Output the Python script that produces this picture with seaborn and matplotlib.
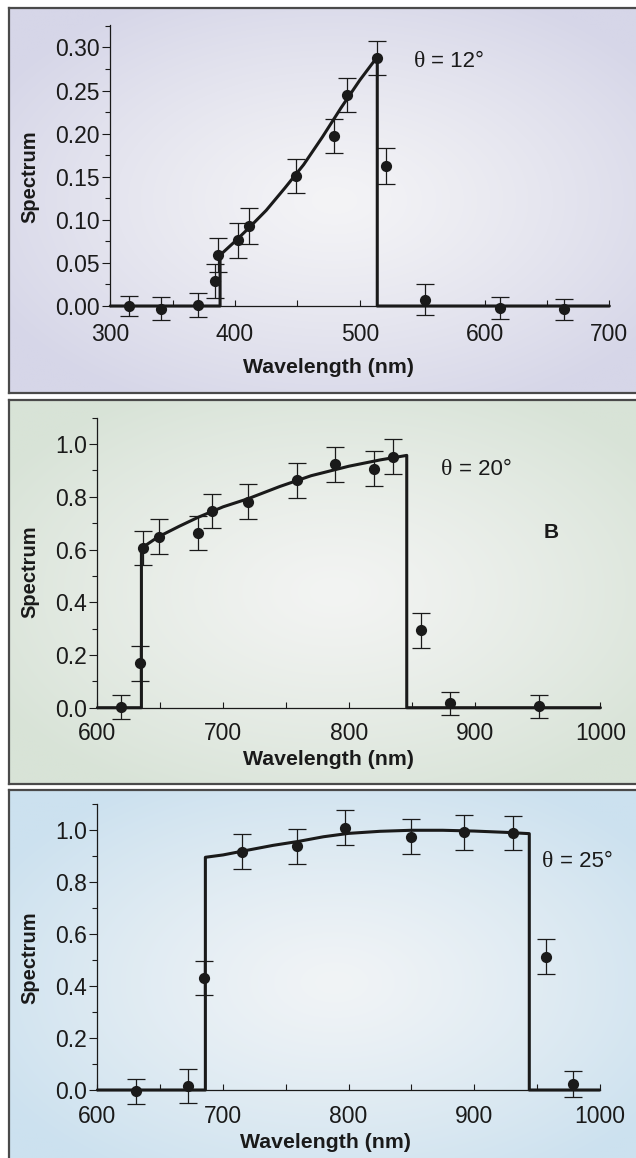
import numpy as np
import matplotlib
matplotlib.use("Agg")
import matplotlib.pyplot as plt
import seaborn as sns
from matplotlib.ticker import MultipleLocator, FormatStrFormatter

# ---------------------------------------------------------------
# data
# theta = 12 deg
wl_12 = [315, 341, 370, 384, 386, 402, 411, 449, 479, 490, 514, 521, 552, 612, 664]
sp_12 = [0.000, -0.003, 0.001, 0.029, 0.059, 0.076, 0.093, 0.151, 0.197, 0.245,
         0.288, 0.162, 0.007, -0.002, -0.004]
err_12 = [0.012, 0.013, 0.014, 0.020, 0.020, 0.020, 0.021, 0.020, 0.020, 0.020,
          0.020, 0.021, 0.018, 0.013, 0.012]
fit_wl_12 = [388, 400, 410, 425, 440, 455, 470, 485, 500, 514]
fit_sp_12 = [0.059, 0.075, 0.089, 0.111, 0.137, 0.164, 0.196, 0.230, 0.262, 0.289]

# theta = 20 deg
wl_20 = [619, 634, 636, 649, 680, 691, 720, 759, 789, 820, 835, 857, 880, 951]
sp_20 = [0.003, 0.168, 0.606, 0.648, 0.663, 0.746, 0.782, 0.863, 0.924, 0.906,
         0.952, 0.293, 0.016, 0.005]
err_20 = [0.045, 0.066, 0.066, 0.066, 0.066, 0.066, 0.066, 0.066, 0.066, 0.066,
          0.066, 0.066, 0.045, 0.045]
fit_wl_20 = [635, 648, 665, 680, 700, 720, 745, 770, 800, 825, 846]
fit_sp_20 = [0.605, 0.647, 0.688, 0.722, 0.762, 0.793, 0.839, 0.880, 0.916, 0.940, 0.957]

# theta = 25 deg
wl_25 = [631, 672, 685, 715, 759, 797, 850, 892, 931, 957, 979]
sp_25 = [-0.004, 0.015, 0.432, 0.918, 0.938, 1.010, 0.976, 0.992, 0.990, 0.514, 0.023]
err_25 = [0.048, 0.066, 0.066, 0.066, 0.066, 0.067, 0.067, 0.067, 0.066, 0.067, 0.050]
fit_wl_25 = [686, 700, 716, 740, 760, 780, 800, 825, 850, 875, 900, 925, 944]
fit_sp_25 = [0.896, 0.905, 0.920, 0.942, 0.957, 0.975, 0.988, 0.996, 1.000, 1.000,
             0.997, 0.992, 0.987]

# ---------------------------------------------------------------
sns.set_theme(style="ticks")
plt.rcParams["font.family"] = ["Liberation Sans", "DejaVu Sans"]

W, H = 636, 1158
fig = plt.figure(figsize=(W / 100, H / 100), dpi=100)


def rect(x0, x1, ytop, ybot):
    return [x0 / W, 1 - ybot / H, (x1 - x0) / W, (ybot - ytop) / H]


def backdrop(box, edge, centre):
    bg = fig.add_axes(rect(*box), zorder=0)
    gx, gy = np.meshgrid(np.linspace(-1, 1, 300), np.linspace(-1, 1, 300))
    r = np.clip(np.sqrt(gx ** 2 + gy ** 2) / 1.2, 0, 1) ** 1.2
    edge = np.array(matplotlib.colors.to_rgb(edge))
    centre = np.array(matplotlib.colors.to_rgb(centre))
    img = centre + (edge - centre) * r[..., None]
    bg.imshow(img, aspect="auto", extent=(0, 1, 0, 1), interpolation="bilinear")
    bg.set_xticks([])
    bg.set_yticks([])
    for s in bg.spines.values():
        s.set_color("#4a4a4a")
        s.set_linewidth(1.6)


panels = [
    dict(wl=wl_12, sp=sp_12, err=err_12, fwl=fit_wl_12, fsp=fit_sp_12,
         xlim=(300, 700), ylim=(0, 0.326), ymaj=0.05, ymin=0.025, yfmt="%.2f",
         box=(9, 660, 8, 393), edge="#d6d6e8", centre="#f4f4f6",
         axes=(110.3, 609.3, 25, 306), theta="θ = 12°", tpos=(543, 0.284),
         xpad=12.5, xlab=(0.4375, -0.186), ylab=(-0.143, 0.46)),
    dict(wl=wl_20, sp=sp_20, err=err_20, fwl=fit_wl_20, fsp=fit_sp_20,
         xlim=(600, 1000), ylim=(0, 1.10), ymaj=0.2, ymin=0.1, yfmt="%.1f",
         box=(9, 660, 400, 784), edge="#d8e3d7", centre="#f3f4f3",
         axes=(97.4, 600.4, 417.7, 707.7), theta="θ = 20°", tpos=(873, 0.903),
         xpad=10.5, xlab=(0.459, -0.145), ylab=(-0.116, 0.469)),
    dict(wl=wl_25, sp=sp_25, err=err_25, fwl=fit_wl_25, fsp=fit_sp_25,
         xlim=(600, 1000), ylim=(0, 1.10), ymaj=0.2, ymin=0.1, yfmt="%.1f",
         box=(9, 660, 790, 1175), edge="#cce1ef", centre="#f1f4f6",
         axes=(97.4, 599.6, 804.3, 1090), theta="θ = 25°", tpos=(954, 0.88),
         xpad=10.5, xlab=(0.455, -0.152), ylab=(-0.116, 0.464)),
]

ink = "#1a1a1a"
for p in panels:
    backdrop(p["box"], p["edge"], p["centre"])
    x0, x1, yt, yb = p["axes"]
    ax = fig.add_axes(rect(x0, x1, yt, yb), zorder=2)
    ax.patch.set_alpha(0)

    # fitted curve with sharp cut-on / cut-off edges
    lo, hi = p["xlim"]
    cx = [lo, p["fwl"][0]] + list(p["fwl"]) + [p["fwl"][-1], hi]
    cy = [0, 0] + list(p["fsp"]) + [0, 0]
    sns.lineplot(x=cx, y=cy, sort=False, estimator=None, color=ink, lw=2.2,
                 ax=ax, clip_on=False, zorder=3)

    ax.errorbar(p["wl"], p["sp"], yerr=p["err"], fmt="none", ecolor=ink,
                elinewidth=0.9, capsize=6.5, capthick=0.9, clip_on=False, zorder=4)
    sns.scatterplot(x=p["wl"], y=p["sp"], color=ink, s=65, edgecolor=ink,
                    linewidth=0, ax=ax, clip_on=False, zorder=5)

    ax.set_xlim(*p["xlim"])
    ax.set_ylim(*p["ylim"])
    sns.despine(ax=ax)
    for s in ("left", "bottom"):
        ax.spines[s].set_color(ink)
        ax.spines[s].set_linewidth(0.9)

    ax.xaxis.set_major_locator(MultipleLocator(100))
    ax.xaxis.set_minor_locator(MultipleLocator(50))
    ax.yaxis.set_major_locator(MultipleLocator(p["ymaj"]))
    ax.yaxis.set_minor_locator(MultipleLocator(p["ymin"]))
    ax.yaxis.set_major_formatter(FormatStrFormatter(p["yfmt"]))
    ax.tick_params(axis="x", which="both", direction="in", length=4, width=0.8,
                   color=ink, labelsize=16.5, pad=p["xpad"], labelcolor=ink)
    ax.tick_params(axis="y", which="major", direction="out", length=6, width=0.8,
                   color=ink, labelsize=16.5, pad=1.5, labelcolor=ink)
    ax.tick_params(axis="y", which="minor", direction="out", length=3.5, width=0.8,
                   color=ink)

    ax.set_xlabel("Wavelength (nm)", fontsize=15.3, fontweight="bold", color=ink)
    ax.set_ylabel("Spectrum", fontsize=14.5, fontweight="bold", color=ink)
    ax.xaxis.set_label_coords(*p["xlab"])
    ax.yaxis.set_label_coords(*p["ylab"])

    tx, ty = p["tpos"]
    ax.text(tx, ty, "θ", family=["Liberation Serif", "DejaVu Serif"], fontsize=17,
            ha="left", va="center", color=ink)
    ax.annotate(p["theta"][1:].strip(), xy=(tx, ty), xytext=(13, 0),
                textcoords="offset points", fontsize=16, ha="left", va="center",
                color=ink)

    if p["theta"] == "θ = 20°":
        ax.text(955, 0.663, "B", fontsize=15, fontweight="bold", ha="left",
                va="center", color=ink)

fig.savefig("out.png", dpi=100)
